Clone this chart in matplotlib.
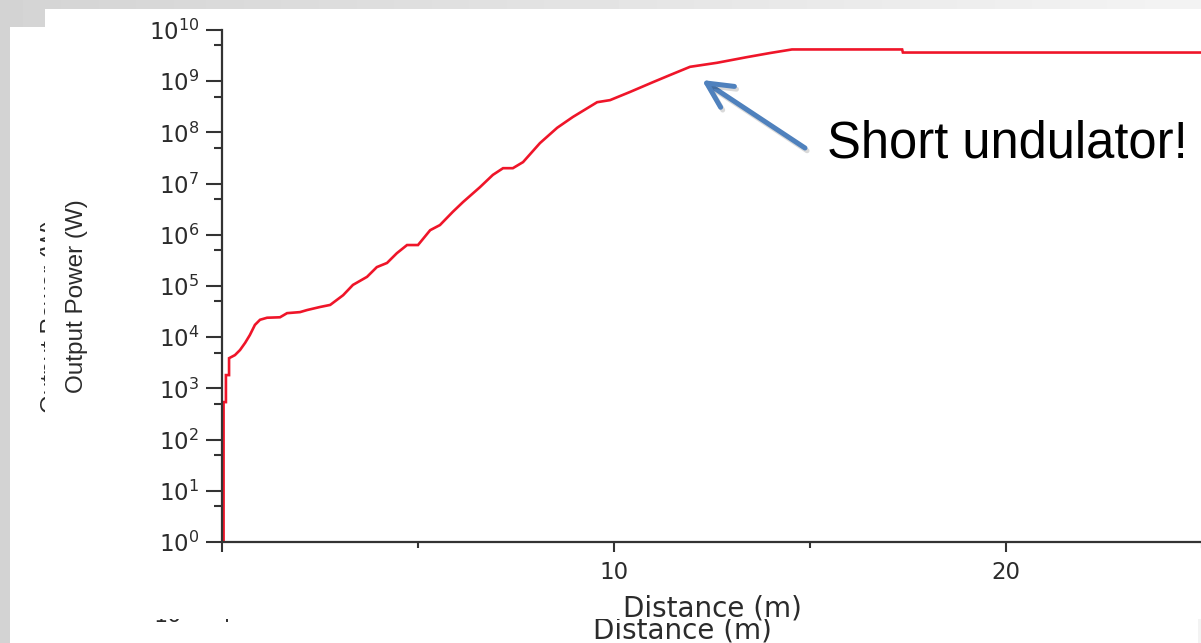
import numpy as np
import matplotlib
matplotlib.use("Agg")
import matplotlib.pyplot as plt
from matplotlib import font_manager
from matplotlib.patches import Rectangle, FancyArrowPatch
from matplotlib.lines import Line2D
from matplotlib.ticker import LogLocator, FixedLocator, NullFormatter
import matplotlib.patheffects as pe

# FEL gain curve: output power along the undulator
distance_m = [0.04, 0.04, 0.10, 0.10, 0.18, 0.18, 0.33, 0.46, 0.59, 0.71,
              0.84, 0.97, 1.15, 1.48, 1.66, 1.99, 2.17, 2.50, 2.76, 3.09,
              3.34, 3.70, 3.95, 4.21, 4.46, 4.72, 5.00, 5.31, 5.56, 5.89,
              6.15, 6.58, 6.91, 7.17, 7.42, 7.68, 8.11, 8.55, 8.95, 9.57,
              9.90, 10.41, 10.99, 11.43, 11.94, 12.63, 13.39, 13.98, 14.54, 17.35,
              17.37, 25.0]
power_w = [1.0, 540, 540, 1820, 1820, 3890, 4470, 5620, 7760, 1.10e4,
           1.74e4, 2.19e4, 2.40e4, 2.45e4, 2.95e4, 3.09e4, 3.39e4, 3.89e4, 4.27e4, 6.61e4,
           1.05e5, 1.51e5, 2.34e5, 2.82e5, 4.37e5, 6.31e5, 6.31e5, 1.23e6, 1.55e6, 2.82e6,
           4.37e6, 8.51e6, 1.48e7, 2.00e7, 2.00e7, 2.63e7, 6.17e7, 1.23e8, 2.00e8, 3.89e8,
           4.27e8, 6.17e8, 9.55e8, 1.32e9, 1.91e9, 2.29e9, 2.95e9, 3.55e9, 4.17e9, 4.17e9,
           3.63e9, 3.63e9]

x_major = [0, 10, 20]
x_major_labels = ["", "10", "20"]
x_minor = [5, 15, 25]

W, H = 1201, 643
fig = plt.figure(figsize=(W / 100, H / 100), dpi=100)


def px(x, y):
    # pixel position measured from the top-left corner -> figure fraction
    return x / W, 1 - y / H


# slide background
bg = fig.add_axes([0, 0, 1, 1], zorder=-10)
grad = np.linspace(0.83, 0.955, 256)[None, :] * np.ones((2, 1))
bg.imshow(grad, cmap="gray", vmin=0, vmax=1, aspect="auto", extent=[0, 1, 0, 1])
bg.set_axis_off()

# two pasted figure images, one sitting slightly over the other
x0, y0 = px(10, 643)
fig.add_artist(Rectangle((x0, y0), (1198 - 10) / W, (643 - 27) / H,
                         transform=fig.transFigure, facecolor="white",
                         edgecolor="none", zorder=-6))

names = {f.name for f in font_manager.fontManager.ttflist}
if "Liberation Sans Narrow" in names:
    ylab_family, ylab_size = "Liberation Sans Narrow", 21.0
else:
    ylab_family, ylab_size = "Liberation Sans", 17.5

ink = "#2b2b2b"
fig.text(*px(63, 316), "Output Power (W)", rotation=90, ha="right", va="center",
         family=ylab_family, fontsize=ylab_size, color=ink, zorder=-5)
fig.text(*px(682, 616), "Distance (m)", ha="center", va="top",
         family="DejaVu Sans", fontsize=20, color=ink, zorder=-5)
fig.text(*px(168, 622), "10", ha="center", va="baseline",
         family="DejaVu Sans", fontsize=16, color=ink, zorder=-5)
fig.add_artist(Line2D([210 / W, 227 / W, 227 / W], [1 - 616 / H, 1 - 616 / H, 1 - 621 / H],
                      transform=fig.transFigure, color=ink, lw=1.4, zorder=-5))

x1, y1 = px(45, 619)
fig.add_artist(Rectangle((x1, y1), (W - 45) / W, (619 - 9) / H,
                         transform=fig.transFigure, facecolor="white",
                         edgecolor="none", zorder=-4))

# main plot
ax = fig.add_axes([222 / W, (H - 542) / H, 980 / W, 512 / H], zorder=0)
ax.set_facecolor("none")
ax.plot(distance_m, power_w, color="#ef1529", lw=1.9, solid_joinstyle="miter")

ax.set_yscale("log")
ax.set_ylim(1, 1e10)
ax.set_xlim(0, 25)
ax.yaxis.set_major_locator(LogLocator(base=10, numticks=12))
ax.yaxis.set_minor_locator(LogLocator(base=10, subs=[5], numticks=12))
ax.yaxis.set_minor_formatter(NullFormatter())
ax.xaxis.set_major_locator(FixedLocator(x_major))
ax.set_xticklabels(x_major_labels)
ax.xaxis.set_minor_locator(FixedLocator(x_minor))

for side in ("top", "right"):
    ax.spines[side].set_visible(False)
for side in ("left", "bottom"):
    ax.spines[side].set_color("#333333")
    ax.spines[side].set_linewidth(1.6)

ax.tick_params(axis="y", which="major", direction="out", length=11.5, width=1.5,
               color="#333333", pad=5.0, labelsize=16.5, labelcolor=ink)
ax.tick_params(axis="y", which="minor", direction="out", length=5.8, width=1.5,
               color="#333333")
ax.tick_params(axis="x", which="major", direction="out", length=7.5, width=1.5,
               color="#333333", pad=6.0, labelsize=16.5, labelcolor=ink)
ax.tick_params(axis="x", which="minor", direction="out", length=4.5, width=1.5,
               color="#333333")

ax.set_ylabel("Output Power (W)", family=ylab_family, fontsize=ylab_size, color=ink)
ax.yaxis.set_label_coords((88 - 222) / 980, (542 - 296) / 512)
ax.set_xlabel("Distance (m)", family="DejaVu Sans", fontsize=20, color=ink)
ax.xaxis.set_label_coords(0.5, (542 - 594) / 512)

# callout
fig.text(*px(827, 158), "Short undulator!", ha="left", va="baseline",
         family="Liberation Sans", fontsize=36.5, color="black")
arrow = fig.add_artist(FancyArrowPatch(
    px(805, 148), px(702, 80), transform=fig.transFigure,
    arrowstyle="->,head_length=0.9,head_width=0.45", mutation_scale=20,
    shrinkA=0, shrinkB=0, color="#4f81bd", lw=3.6, capstyle="round", zorder=5))
arrow.set_path_effects([pe.SimpleLineShadow(offset=(1.5, -2), alpha=0.15,
                                            shadow_color="black"),
                        pe.Normal()])

fig.savefig("out.png", dpi=100)
